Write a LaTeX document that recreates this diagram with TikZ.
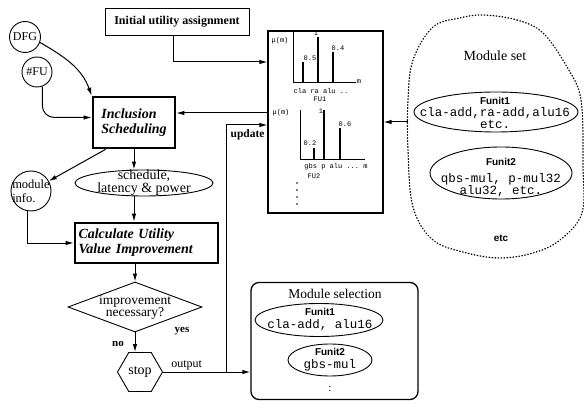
\documentclass[tikz,border=0pt]{standalone}
\usepackage{fontspec}
\setmainfont{Liberation Serif}
\setsansfont{Liberation Sans}
\setmonofont{Liberation Mono}
\usetikzlibrary{positioning,arrows.meta,shapes.geometric}

\begin{document}
\begin{tikzpicture}[x=1pt, y=-1pt,
  box/.style={draw, line width=0.9pt, inner sep=2pt, align=center},
  bigbox/.style={draw, line width=2.6pt, inner sep=3pt,
                 font=\fontsize{14}{15}\selectfont\bfseries\itshape},
  circ/.style={draw, circle, line width=0.9pt, inner sep=0pt, align=center},
  oval/.style={draw, ellipse, line width=0.9pt, inner sep=0pt},
  txt/.style={align=center, inner sep=0pt},
  arr/.style={-{Latex[length=8pt,width=4.5pt]}, line width=1pt},
  lbl/.style={font=\fontsize{12}{12}\selectfont, inner sep=1pt},
  unitlist/.style={txt, font=\ttfamily\fontsize{12.5}{12}\selectfont},
  chartlbl/.style={font=\ttfamily\fontsize{7}{7}\selectfont, inner sep=0.5pt},
]
  \useasboundingbox (0,0) rectangle (584,401);

  % left flow
  \node[box, minimum width=144pt, minimum height=27pt,
        font=\bfseries\fontsize{12}{12}\selectfont] (init) at (177,21.5) {Initial utility assignment};
  \node[circ, minimum size=31pt, font=\fontsize{12}{12}\selectfont] (dfg) at (25,37) {DFG};
  \node[circ, minimum size=30pt, font=\fontsize{12}{12}\selectfont] (fu) at (37,72) {\#FU};
  \node[bigbox, minimum width=82pt, minimum height=51pt, align=left] (incl) at (134,122.5) {Inclusion\\Scheduling};
  \node[circ, minimum size=40pt] (minfo) at (31,191) {};
  \node[txt, align=left, font=\fontsize{12.5}{14}\selectfont] (minfotxt) at (minfo) {module\\info.};
  \node[oval, minimum width=138pt, minimum height=26pt] (sched) at (144,183) {};
  \node[txt, font=\fontsize{14}{13}\selectfont] (schedtxt) at (sched) {schedule,\\latency \& power};
  \node[bigbox, minimum width=143pt, minimum height=40pt, text width=136pt, align=left] (calc) at (146.5,243) {Calculate Utility\\Value Improvement};
  \node[draw, diamond, line width=0.9pt, minimum width=134pt, minimum height=50pt, inner sep=0pt] (dec) at (135,307) {};
  \node[txt, font=\fontsize{13.5}{12}\selectfont] (dectxt) at (dec) {improvement\\necessary?};
  \node[draw, regular polygon, regular polygon sides=6, minimum size=45pt, inner sep=0pt,
        line width=0.9pt, font=\fontsize{14}{14}\selectfont] (stop) at (140,372) {stop};
  \node[lbl, font=\bfseries\fontsize{11}{11}\selectfont] (yes) at (182,331) {yes};
  \node[lbl, font=\bfseries\fontsize{11}{11}\selectfont] (no) at (118,344) {no};

  % utility graphs
  \node[draw, line width=1.1pt, minimum width=115pt, minimum height=182pt] (graph) at (325.5,122) {};
  \draw[line width=0.8pt] (293,32) -- (293,82) -- (356,82);
  \draw[line width=1.1pt] (303,82) -- (303,62) (318,82) -- (318,37) (333,82) -- (333,52);
  \node[chartlbl] (mu1) at (280,41) {μ(m)};
  \node[chartlbl] (v11) at (310,58) {0.5};
  \node[chartlbl] (v12) at (316,33) {1};
  \node[chartlbl] (v13) at (338,48) {0.4};
  \node[chartlbl] (m1) at (359,82) {m};
  \node[chartlbl] (row1) at (321,91) {cla ra alu ..};
  \node[chartlbl] (fu1) at (320,99) {FU1};
  \draw[line width=0.8pt] (300,110) -- (300,159) -- (365,159);
  \draw[line width=1.1pt] (314,159) -- (314,148) (340,159) -- (340,128);
  \draw[line width=1.6pt] (324,159) -- (324,110);
  \node[chartlbl] (mu2) at (281,113) {μ(m)};
  \node[chartlbl] (v21) at (310,143) {0.2};
  \node[chartlbl] (v22) at (321,111) {1};
  \node[chartlbl] (v23) at (345,124) {0.6};
  \node[chartlbl] (row2) at (336,167) {gbs p alu ... m};
  \node[chartlbl] (fu2) at (314,176) {FU2};
  \foreach \y in {183,190,197,204}
    \fill (297,\y) circle (0.9pt);

  % module set
  \draw[line width=1.3pt, dash pattern=on 0.6pt off 2.4pt, line cap=round]
    plot[smooth cycle, tension=0.6] coordinates {(483,15) (517,20) (543,33) (567,67) (581,100)
      (583,167) (582,213) (560,240) (533,253) (500,258) (467,253) (433,240) (413,207)
      (408,150) (408,100) (413,60) (433,27) (460,18)};
  \coordinate (msl) at (408,122);
  \node[font=\fontsize{14}{14}\selectfont] (msettitle) at (495,56) {Module set};
  \node[oval, minimum width=164pt, minimum height=40pt] (mset1) at (496,112) {};
  \node[unitlist] (mset1txt) at (495,113) {{\sffamily\bfseries\fontsize{10}{11}\selectfont Funit1}\\cla-add,ra-add,alu16\\etc.};
  \node[oval, minimum width=142pt, minimum height=52pt] (mset2) at (501,173) {};
  \node[unitlist] (mset2txt) at (501,177) {{\sffamily\bfseries\fontsize{10}{11}\selectfont Funit2}\\[5pt]qbs-mul, p-mul32\\alu32, etc.};
  \node[font=\sffamily\bfseries\fontsize{10}{10}\selectfont] (msetetc) at (501,238) {etc};

  % module selection
  \node[draw, rounded corners=8pt, line width=1.3pt, minimum width=167pt, minimum height=117pt] (modsel) at (334.5,341) {};
  \node[font=\fontsize{13.5}{13.5}\selectfont] (modseltitle) at (335,294) {Module selection};
  \node[oval, minimum width=128pt, minimum height=33pt] (sel1) at (319,320) {};
  \node[unitlist, font=\ttfamily\fontsize{12.5}{13}\selectfont] (sel1txt) at (320,319) {{\sffamily\bfseries\fontsize{10}{11}\selectfont Funit1}\\cla-add, alu16};
  \node[oval, minimum width=84pt, minimum height=32pt] (sel2) at (330,360) {};
  \node[unitlist, font=\ttfamily\fontsize{12.5}{13}\selectfont] (sel2txt) at (330,360) {{\sffamily\bfseries\fontsize{10}{11}\selectfont Funit2}\\gbs-mul};
  \node[font=\fontsize{11}{11}\selectfont] (seldots) at (330,389) {:};

  % connectors
  \draw[arr] (dfg.-20) to[out=-30, in=110] (incl.north west);
  \draw[arr, rounded corners=12pt] (fu.-70) |- ([yshift=5pt]incl.west);
  \draw[arr] ([xshift=-4pt]init.south) |- ([yshift=60pt]graph.west);
  \draw[arr] ([yshift=9pt]graph.west) -- ([yshift=9pt]graph.west -| incl.east);
  \draw[arr] ([xshift=14pt]incl.south west) -- (minfo);
  \draw[arr] (incl.south) -- (incl.south |- sched.north);
  \draw[arr] (sched.south -| incl.south) -- (calc.north -| incl.south);
  \draw[arr] (minfo.-100) |- (calc.west);
  \draw[arr] (calc.south -| dec.north) -- (dec.north);
  \draw[arr] (dec.south) -- (dec.south |- stop.north);
  \draw[arr] (stop.east) -- node[lbl, above, pos=0.27] {output} (stop.east -| modsel.west);
  \coordinate (tap) at (226,372);
  \draw[arr] (tap) |- node[lbl, below=3pt, pos=0.76, font=\bfseries\fontsize{11.5}{11.5}\selectfont] {update} ([yshift=-3pt]graph.west);
  \draw[arr] (msl) -- (msl -| graph.east);
\end{tikzpicture}
\end{document}
